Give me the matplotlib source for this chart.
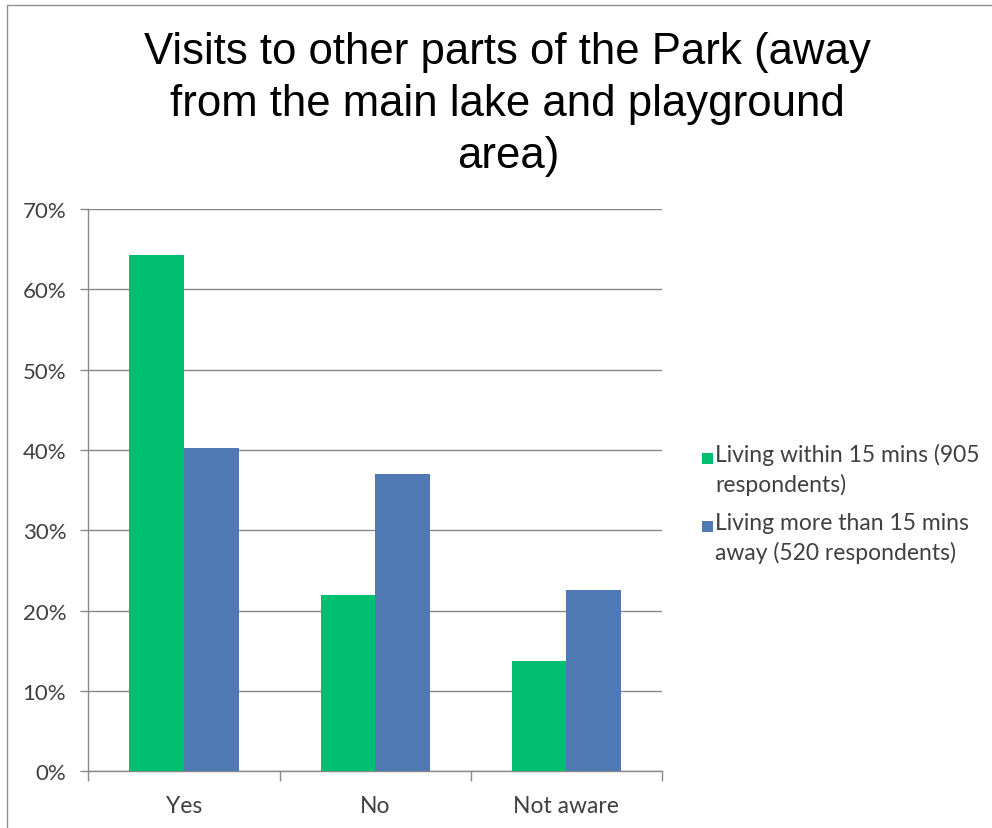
import numpy as np
import matplotlib.pyplot as plt
from matplotlib.patches import Rectangle
from matplotlib.lines import Line2D
from matplotlib.container import BarContainer
from matplotlib.legend_handler import HandlerPatch, update_from_first_child
from matplotlib.ticker import FixedLocator, PercentFormatter

categories = ["Yes", "No", "Not aware"]
within_15 = [64.3, 22.0, 13.7]
beyond_15 = [40.3, 37.0, 22.6]
series_labels = ["Living within 15 mins (905\nrespondents)",
                 "Living more than 15 mins\naway (520 respondents)"]
title = "Visits to other parts of the Park (away\nfrom the main lake and playground\narea)"

green = "#00BF6F"
blue = "#4F79B2"
grid_grey = "#898989"
text_grey = "#404040"
label_font = ["Lato", "DejaVu Sans"]

fig = plt.figure(figsize=(9.92, 8.29), dpi=100)
ax = fig.add_axes([0.0892, 0.0682, 0.5781, 0.6785])

# chart border, only the top and left edges fall inside the image
fig.add_artist(Line2D([0.0071, 0.0071, 1.0], [0.0, 0.9928, 0.9928], transform=fig.transFigure,
                      color="#8f8f8f", linewidth=1.0))

x = np.arange(len(categories))
w = 1 / 3.5
ax.bar(x - w / 2, within_15, w, color=green, label=series_labels[0], zorder=3)
ax.bar(x + w / 2, beyond_15, w, color=blue, label=series_labels[1], zorder=3)

ax.set_xlim(-0.5, len(categories) - 0.5)
ax.set_ylim(0, 70)
ax.yaxis.set_major_locator(FixedLocator(np.arange(0, 71, 10)))
ax.yaxis.set_major_formatter(PercentFormatter(decimals=0))
ax.grid(axis="y", color=grid_grey, linewidth=1.0, zorder=0)

for side in ["top", "right"]:
    ax.spines[side].set_visible(False)
for side in ["left", "bottom"]:
    ax.spines[side].set_color(grid_grey)
    ax.spines[side].set_linewidth(1.0)

ax.set_xticks(x)
ax.set_xticklabels(categories)
ax.set_xticks(np.arange(-0.5, len(categories)), minor=True)
ax.tick_params(axis="x", which="major", length=0, pad=17, labelsize=16.5, labelcolor=text_grey)
ax.tick_params(axis="x", which="minor", length=7.5, width=1.0, color=grid_grey, direction="out")
ax.tick_params(axis="y", length=6, width=1.0, color=grid_grey, pad=10, labelsize=16,
               labelcolor=text_grey)
for lbl in ax.get_xticklabels() + ax.get_yticklabels():
    lbl.set_family(label_font)

fig.text(0.512, 0.962, title, ha="center", va="top", ma="center", fontsize=31.5,
         family=["Liberation Sans", "DejaVu Sans"], color="black", linespacing=1.35)


def first_line_square(legend, orig_handle, xdescent, ydescent, width, height, fontsize):
    # legend keys sit beside the first line of each wrapped label
    side = 0.47 * fontsize
    return Rectangle((-xdescent, -ydescent + 0.61 * fontsize), side, side)


leg = fig.legend(loc="upper left", bbox_to_anchor=(0.6965, 0.478), frameon=False,
                 prop={"family": label_font, "size": 16.5}, handlelength=0.47,
                 handletextpad=0.1, labelspacing=0.75, borderpad=0,
                 handler_map={BarContainer: HandlerPatch(patch_func=first_line_square,
                                                         update_func=update_from_first_child)})
for t in leg.get_texts():
    t.set_linespacing(1.42)
    t.set_color(text_grey)

fig.savefig("out.png", dpi=100)
